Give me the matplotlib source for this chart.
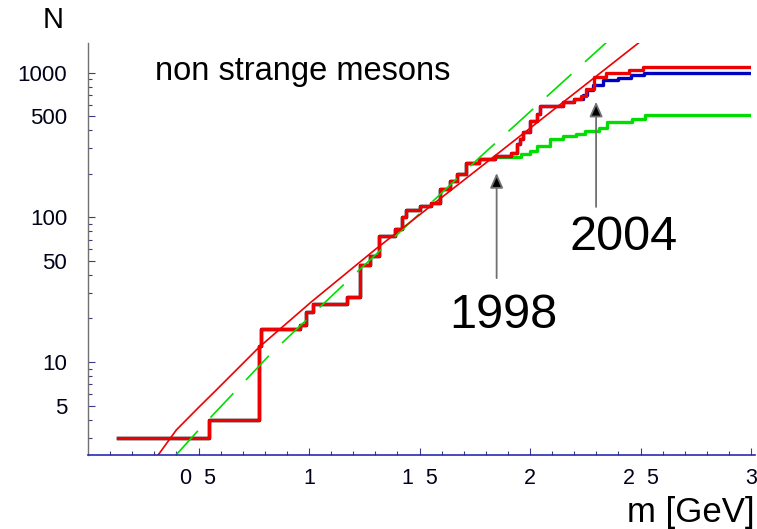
import numpy as np
import matplotlib
matplotlib.use('Agg')
import matplotlib.pyplot as plt
from matplotlib.ticker import FixedLocator, LogLocator, NullFormatter

plt.rcParams['font.family'] = ['Liberation Sans', 'DejaVu Sans']

# cumulative number of non-strange meson states N(m), step positions in GeV
mass_red = [0.138, 0.548, 0.775, 0.782, 0.958, 0.985, 1.020, 1.170, 1.233, 1.278,
            1.315, 1.390, 1.420, 1.440, 1.500, 1.550, 1.595, 1.640, 1.670, 1.710,
            1.770, 1.840, 1.915, 1.940, 1.955, 1.970, 2.000, 2.030, 2.045, 2.150,
            2.200, 2.230, 2.255, 2.290, 2.345, 2.450, 2.510, 3.000]
count_red = [3, 4, 13, 17, 18, 22, 25, 28, 47, 54,
             74, 83, 100, 113, 120, 126, 156, 178, 198, 236,
             252, 267, 280, 320, 346, 387, 465, 519, 590, 625,
             660, 690, 770, 935, 985, 1040, 1095, 1095]

# 2004 compilation: same as the red one below 2.2 GeV
mass_2004_tail = [2.240, 2.260, 2.285, 2.330, 2.400, 2.455, 2.515, 3.000]
count_2004_tail = [700, 760, 818, 883, 920, 960, 985, 985]

# 1998 compilation: same as the red one below 1.8 GeV
mass_1998_tail = [1.840, 1.960, 2.000, 2.030, 2.090, 2.150, 2.210, 2.250,
                  2.310, 2.350, 2.460, 2.520, 3.000]
count_1998_tail = [260, 275, 289, 312, 346, 365, 378, 395,
                   412, 452, 478, 508, 508]

# Hagedorn-type fits
fit_red_m = [0.31, 0.40, 0.50, 0.58, 0.775, 1.01, 1.30, 1.81, 2.50]
fit_red_n = [2.2, 3.4, 4.85, 6.4, 12.7, 26, 60, 244, 1641]
fit_green_m = [0.396, 0.491, 0.829, 1.18, 1.773, 2.351]
fit_green_n = [2.26, 3.27, 11.5, 37, 260, 1641]

xticks = [0.5, 1, 1.5, 2, 2.5, 3]
xticklabels = ['0  5', '1', '1  5', '2', '2  5', '3']
yticks = [5, 10, 50, 100, 500, 1000]
yticklabels = ['5', '10', '50', '100', '500', '1000']

n_head_2004 = sum(m <= 2.2 for m in mass_red)
mass_2004 = mass_red[:n_head_2004] + mass_2004_tail
count_2004 = count_red[:n_head_2004] + count_2004_tail
n_head_1998 = sum(m <= 1.8 for m in mass_red)
mass_1998 = mass_red[:n_head_1998] + mass_1998_tail
count_1998 = count_red[:n_head_1998] + count_1998_tail

W, H = 757, 529
fig = plt.figure(figsize=(W / 100, H / 100), dpi=100)
ax = fig.add_axes([88 / W, 1 - 455 / H, 663 / W, 412 / H])
ax.set_yscale('log')
ax.set_xlim(0, 3)
ax.set_ylim(2.28, 1600)

ax.step(mass_1998, count_1998, where='post', color='#00dd00', lw=2.4)
ax.step(mass_2004, count_2004, where='post', color='#0000c0', lw=2.4)
ax.step(mass_red, count_red, where='post', color='#ee0000', lw=2.4)
ax.plot(fit_green_m, fit_green_n, color='#00dd00', lw=1.2, dashes=(20, 11))
ax.plot(fit_red_m, fit_red_n, color='#ee0000', lw=1.2)

for side in ['top', 'right']:
    ax.spines[side].set_visible(False)
ax.spines['left'].set_color('#707070')
ax.spines['bottom'].set_color('#2a2ab0')
ax.spines['left'].set_linewidth(1.0)
ax.spines['bottom'].set_linewidth(1.2)
ax.spines['bottom'].set_bounds(0, 3.02)

ax.xaxis.set_major_locator(FixedLocator(xticks))
ax.set_xticklabels(xticklabels)
ax.xaxis.set_minor_locator(FixedLocator(np.arange(0.1, 3.0, 0.1)))
ax.yaxis.set_major_locator(FixedLocator(yticks))
ax.set_yticklabels(yticklabels)
ax.yaxis.set_minor_locator(LogLocator(base=10, subs=range(2, 10)))
ax.yaxis.set_minor_formatter(NullFormatter())

ax.tick_params(which='both', direction='in', color='#3a3a8a', width=0.8)
ax.tick_params(which='major', length=5)
ax.tick_params(which='minor', length=3)
ax.tick_params(axis='x', pad=9, labelsize=15.5, labelcolor='#000018')
ax.tick_params(axis='y', pad=15, labelsize=16, labelcolor='#000018')

ax.text(0.1006, 0.910, 'non strange mesons', transform=ax.transAxes,
        fontsize=23.5, va='baseline', ha='left')
fig.text(53 / W, 1 - 20 / H, 'N', fontsize=21, ha='center', va='center')
fig.text(755 / W, 1 - 522 / H, 'm [GeV]', fontsize=25, ha='right', va='baseline')

arrow = dict(arrowstyle='-|>,head_length=0.9,head_width=0.4', fc='black',
             ec='#707070', lw=1.3, shrinkA=0, shrinkB=0)
ax.annotate('', xy=(1.849, 202), xytext=(1.849, 38), arrowprops=arrow)
ax.annotate('', xy=(2.299, 628), xytext=(2.299, 118), arrowprops=arrow)
ax.text(1.878, 21.1, '1998', fontsize=35, ha='center', va='center')
ax.text(2.423, 73, '2004', fontsize=35, ha='center', va='center')

fig.savefig('out.png', dpi=100)
